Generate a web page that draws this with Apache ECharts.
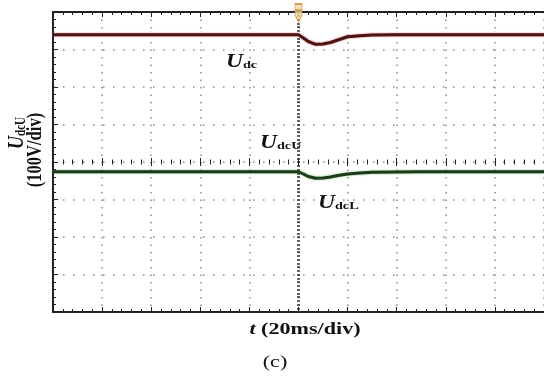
<!DOCTYPE html>
<html>
<head>
<meta charset="utf-8">
<script src="https://cdn.jsdelivr.net/npm/echarts@6/dist/echarts.min.js"></script>
<style>
html,body{margin:0;padding:0;background:#fff;}
#chart{width:544px;height:380px;}
</style>
</head>
<body>
<div id="chart"></div>
<script>
// time relative to trigger (ms), 20 ms/div
const timeMs = [-100, -80, -60, -40, -20, 0, 2, 4, 7, 10, 13, 16, 20, 25, 30, 40, 50, 60, 80, 100];
// screen voltage relative to centre (V), 100 V/div
const udcValues  = [339.5, 339.5, 339.5, 339.5, 339.5, 339.5, 330.7, 321.3, 313.9, 314.7, 318.7, 325.3, 334.1, 336.5, 338.7, 339.5, 339.5, 339.5, 339.5, 339.5];
const udcUValues = [-26, -26, -26, -26, -26, -26, -32, -38.7, -43.5, -42.7, -40, -36, -32, -29.3, -27.5, -26.7, -26.2, -26, -26, -26];
const triggerPoint = [[0, 400]];
const xRange = [-100, 100];
const yRange = [-400, 400];
const xInterval = 20;
const yInterval = 100;

const SERIF = "'Liberation Serif', 'DejaVu Serif', serif";
const chart = echarts.init(document.getElementById('chart'), null, {renderer: 'canvas'});

function baseX(extra) {
  return Object.assign({
    type: 'value', min: xRange[0], max: xRange[1], interval: xInterval,
    axisLabel: {show: false}, splitLine: {show: false}
  }, extra);
}
function baseY(extra) {
  return Object.assign({
    type: 'value', min: yRange[0], max: yRange[1], interval: yInterval,
    axisLabel: {show: false}, splitLine: {show: false}
  }, extra);
}
const edgeLine = {show: true, onZero: false, lineStyle: {color: '#222', width: 2}};
const tickStyle = {color: '#222', width: 1};

const udcSeries = timeMs.map((t, i) => [t, udcValues[i]]);
const udcUSeries = timeMs.map((t, i) => [t, udcUValues[i]]);

const rich = (big, small) => ({
  text: '{u|' + big + '}{s|' + small + '}',
  rich: {
    u: {fontFamily: SERIF, fontWeight: 'bold', fontStyle: 'italic', fontSize: 18, fill: '#111'},
    s: {fontFamily: SERIF, fontWeight: 'bold', fontSize: 11, fill: '#111', verticalAlign: 'bottom'}
  }
});

chart.setOption({
  animation: false,
  backgroundColor: '#fff',
  grid: {left: 53, top: 12, width: 500, height: 300},
  xAxis: [
    baseX({position: 'bottom', axisLine: edgeLine,
      axisTick: {show: true, inside: true, length: 5, lineStyle: tickStyle},
      minorTick: {show: true, splitNumber: 5, length: 3, lineStyle: tickStyle},
      splitLine: {show: true, lineStyle: {color: '#8a8a8a', width: 1.5, type: [1.5, 6]}}}),
    baseX({position: 'top', axisLine: edgeLine,
      axisTick: {show: true, inside: true, length: 5, lineStyle: tickStyle},
      minorTick: {show: true, splitNumber: 5, length: 3, lineStyle: tickStyle}}),
    baseX({position: 'bottom', axisLine: {show: false, onZero: true, onZeroAxisIndex: 0},
      axisTick: {show: true, inside: true, length: 4, lineStyle: tickStyle},
      minorTick: {show: true, splitNumber: 5, length: 2.5, lineStyle: tickStyle}}),
    baseX({position: 'top', axisLine: {show: false, onZero: true, onZeroAxisIndex: 0},
      axisTick: {show: true, inside: true, length: 4, lineStyle: tickStyle},
      minorTick: {show: true, splitNumber: 5, length: 2.5, lineStyle: tickStyle}})
  ],
  yAxis: [
    baseY({position: 'left', axisLine: edgeLine,
      axisTick: {show: true, inside: true, length: 5, lineStyle: tickStyle},
      minorTick: {show: true, splitNumber: 5, length: 3, lineStyle: tickStyle},
      splitLine: {show: true, lineStyle: {color: '#8a8a8a', width: 1.5, type: [1.5, 8.5]}}}),
    baseY({position: 'left', axisLine: {show: false, onZero: true, onZeroAxisIndex: 0},
      axisTick: {show: true, inside: false, length: 1.5, lineStyle: {color: '#333', width: 1.5}},
      minorTick: {show: true, splitNumber: 10, length: 1.5, lineStyle: {color: '#333', width: 1.5}}}),
    baseY({position: 'left', axisLine: {show: false, onZero: true, onZeroAxisIndex: 0},
      axisTick: {show: true, inside: true, length: 1.5, lineStyle: {color: '#333', width: 1.5}},
      minorTick: {show: true, splitNumber: 10, length: 1.5, lineStyle: {color: '#333', width: 1.5}}})
  ],
  series: [
    {name: 'Udc', type: 'line', xAxisIndex: 0, yAxisIndex: 0, data: udcSeries,
      showSymbol: false, symbol: 'none', z: 5,
      lineStyle: {color: '#4a1414', width: 3, shadowColor: 'rgba(210,40,40,0.7)', shadowBlur: 2}},
    {name: 'UdcU', type: 'line', xAxisIndex: 0, yAxisIndex: 0, data: udcUSeries,
      showSymbol: false, symbol: 'none', z: 5,
      lineStyle: {color: '#1d3a1d', width: 3, shadowColor: 'rgba(40,160,40,0.7)', shadowBlur: 2}},
    {name: 'trigger', type: 'scatter', xAxisIndex: 0, yAxisIndex: 0, data: triggerPoint,
      symbol: 'path://M0,0 L10,0 L10,7 L5,7 L10,7 L10,12 L5,20 L0,12 L0,7 L5,7 L0,7 Z',
      symbolSize: [7, 18], symbolOffset: [0, 1], z: 6, clip: false,
      itemStyle: {color: '#f3d9a6', borderColor: '#d08a2a', borderWidth: 1.2}}
  ],
  graphic: [
    {type: 'text', x: 226, y: 62, scaleX: 1.3, style: Object.assign(rich('U', 'dc'), {align: 'left', verticalAlign: 'middle'})},
    {type: 'text', x: 260, y: 143, scaleX: 1.3, style: Object.assign(rich('U', 'dcU'), {align: 'left', verticalAlign: 'middle'})},
    {type: 'text', x: 318, y: 203, scaleX: 1.3, style: Object.assign(rich('U', 'dcL'), {align: 'left', verticalAlign: 'middle'})},
    {type: 'text', x: 17, y: 133, rotation: Math.PI / 2, scaleY: 1.3,
      style: Object.assign(rich('U', 'dcU'), {align: 'center', verticalAlign: 'middle'})},
    {type: 'text', x: 35, y: 150, rotation: Math.PI / 2, scaleY: 1.3,
      style: {text: '(100V/div)', font: "bold 16.5px " + SERIF, fill: '#111', align: 'center', verticalAlign: 'middle'}},
    {type: 'text', x: 305, y: 330, scaleX: 1.3,
      style: {text: '{i|t} (20ms/div)', rich: {i: {fontFamily: SERIF, fontWeight: 'bold', fontStyle: 'italic', fontSize: 17, fill: '#111'}},
        font: "bold 17px " + SERIF, fill: '#111', align: 'center', verticalAlign: 'middle'}},
    {type: 'text', x: 275, y: 363, scaleX: 1.3,
      style: {text: '(c)', font: "17px " + SERIF, fill: '#111', align: 'center', verticalAlign: 'middle'}}
  ]
});
</script>
</body>
</html>
